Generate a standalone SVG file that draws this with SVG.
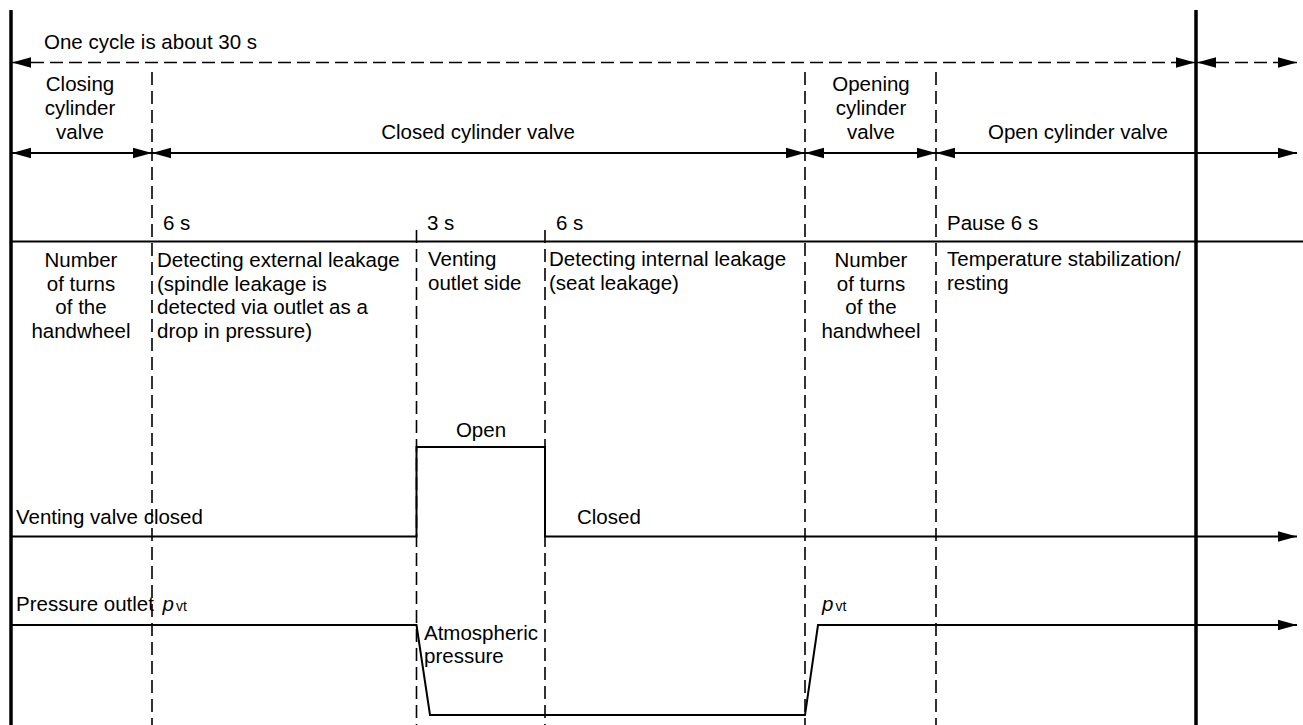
<svg xmlns="http://www.w3.org/2000/svg" width="1303" height="725" viewBox="0 0 1303 725">
<style>
text{font-family:"Liberation Sans",Arial,sans-serif;font-size:20.5px;fill:#000}
.c{text-anchor:middle}
.thick{stroke:#000;stroke-width:3.5;fill:none}
.ln{stroke:#000;stroke-width:2;fill:none}
.dash{stroke:#000;stroke-width:1.6;fill:none;stroke-dasharray:13 6}
.dh{stroke:#000;stroke-width:1.6;fill:none;stroke-dasharray:13 6}
.it{font-style:italic}
.sub{font-size:14px}
</style>
<defs>
<marker id="ah" markerUnits="userSpaceOnUse" markerWidth="20" markerHeight="12" refX="19" refY="6" orient="auto-start-reverse">
<path d="M0,0.8 L19,6 L0,11.2 z" fill="#000"/>
</marker>
</defs>
<rect width="1303" height="725" fill="#fff"/>
<g id="frame">
<line class="thick" x1="11" y1="10" x2="11" y2="725"/>
<line class="thick" x1="1196" y1="10" x2="1196" y2="725"/>
<line class="ln" x1="11" y1="241.5" x2="1303" y2="241.5"/>
<line class="dh" x1="152" y1="72" x2="152" y2="725"/>
<line class="dh" x1="416.5" y1="230" x2="416.5" y2="725"/>
<line class="dh" x1="545" y1="230" x2="545" y2="725"/>
<line class="dh" x1="805" y1="72" x2="805" y2="725"/>
<line class="dh" x1="936" y1="72" x2="936" y2="725"/>
</g>
<g id="connectors">
<line class="dash" x1="12" y1="62.5" x2="1195" y2="62.5" marker-start="url(#ah)" marker-end="url(#ah)"/>
<line class="dash" x1="1197" y1="62.5" x2="1297" y2="62.5" marker-start="url(#ah)" marker-end="url(#ah)"/>
<line class="ln" x1="12" y1="153" x2="152" y2="153" marker-start="url(#ah)" marker-end="url(#ah)"/>
<line class="ln" x1="152" y1="153" x2="805" y2="153" marker-start="url(#ah)" marker-end="url(#ah)"/>
<line class="ln" x1="805" y1="153" x2="936" y2="153" marker-start="url(#ah)" marker-end="url(#ah)"/>
<line class="ln" x1="936" y1="153" x2="1297" y2="153" marker-start="url(#ah)" marker-end="url(#ah)"/>
<polyline class="ln" points="11,536.5 416.5,536.5 416.5,447 545,447 545,536.5 1297,536.5" marker-end="url(#ah)"/>
<polyline class="ln" points="11,625 416.5,625 430,715 805,715 818,625 1297,625" marker-end="url(#ah)"/>
</g>
<g id="cycle"><text x="44" y="49">One cycle is about 30 s</text></g>
<g id="closing">
<text class="c" x="80" y="91">Closing</text>
<text class="c" x="80" y="115">cylinder</text>
<text class="c" x="80" y="139">valve</text>
</g>
<g id="closed"><text class="c" x="478" y="139">Closed cylinder valve</text></g>
<g id="opening">
<text class="c" x="871" y="91">Opening</text>
<text class="c" x="871" y="115">cylinder</text>
<text class="c" x="871" y="139">valve</text>
</g>
<g id="open"><text class="c" x="1078" y="139">Open cylinder valve</text></g>
<g id="durations">
<text x="163" y="230">6 s</text>
<text x="427" y="230">3 s</text>
<text x="556" y="230">6 s</text>
<text x="947" y="230">Pause 6 s</text>
</g>
<g id="turns1">
<text class="c" x="81" y="267">Number</text>
<text class="c" x="81" y="290.7">of turns</text>
<text class="c" x="81" y="314.3">of the</text>
<text class="c" x="81" y="338">handwheel</text>
</g>
<g id="external">
<text x="157" y="267">Detecting external leakage</text>
<text x="157" y="290.7">(spindle leakage is</text>
<text x="157" y="314.3">detected via outlet as a</text>
<text x="157" y="338">drop in pressure)</text>
</g>
<g id="venting">
<text x="428" y="266">Venting</text>
<text x="428" y="290">outlet side</text>
</g>
<g id="internal">
<text x="549" y="266">Detecting internal leakage</text>
<text x="549" y="290">(seat leakage)</text>
</g>
<g id="turns2">
<text class="c" x="871" y="267">Number</text>
<text class="c" x="871" y="290.7">of turns</text>
<text class="c" x="871" y="314.3">of the</text>
<text class="c" x="871" y="338">handwheel</text>
</g>
<g id="temp">
<text x="947" y="266">Temperature stabilization/</text>
<text x="947" y="290">resting</text>
</g>
<g id="valve-labels">
<text class="c" x="481" y="437">Open</text>
<text x="16" y="524">Venting valve closed</text>
<text x="577" y="524">Closed</text>
</g>
<g id="pressure-labels">
<text x="16" y="611">Pressure outlet <tspan class="it" dx="3">p</tspan><tspan class="sub" dx="2">vt</tspan></text>
<text x="424" y="640">Atmospheric</text>
<text x="424" y="663">pressure</text>
<text x="822" y="611"><tspan class="it">p</tspan><tspan class="sub" dx="2">vt</tspan></text>
</g>
</svg>
